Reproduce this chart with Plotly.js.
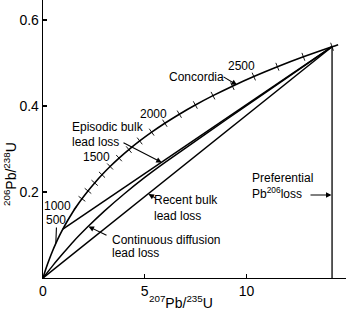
<!DOCTYPE html>
<html>
<head>
<meta charset="utf-8">
<script src="https://cdn.plot.ly/plotly-3.0.1.min.js"></script>
<style>html,body{margin:0;padding:0;background:#fff;}#chart{width:349px;height:312px;}</style>
</head>
<body>
<div id="chart"></div>
<script>
// Concordia (ages in Ma, ratios read/tabulated)
const ageMa = [0,100,200,300,400,500,600,700,800,900,1000,1100,1200,1300,1400,1500,1600,1700,1800,1900,2000,2100,2200,2300,2400,2500,2600,2700,2800,2820];
const pb207u235 = [0,0.10208,0.21458,0.33857,0.47520,0.62578,0.79174,0.97464,1.17621,1.39836,1.64317,1.91300,2.21033,2.53806,2.89928,3.29735,3.73608,4.21950,4.75229,5.33949,5.98662,6.69985,7.48588,8.35208,9.30672,10.35884,11.51836,12.79630,14.20456,14.50310];
const pb206u238 = [0,0.01549,0.03122,0.04719,0.06341,0.07988,0.09661,0.11359,0.13084,0.14835,0.16614,0.18420,0.20254,0.22117,0.24009,0.25929,0.27880,0.29861,0.31872,0.33915,0.35989,0.38095,0.40234,0.42406,0.44612,0.46852,0.49127,0.51437,0.53782,0.54255];
const tickAges = [1100,1200,1300,1400,1500,1600,1700,1800,1900,2000,2100,2200,2300,2400,2500,2600,2700,2800];

// Episodic bulk lead loss chord: lower and upper intercept ages
const episodicAges = [700, 2800];
// Recent bulk lead loss chord: from present-day origin to upper intercept
const recentAges = [0, 2800];
// Continuous diffusion lead loss curve
const diffX = [0, 0.5, 1.0, 1.5, 2.2, 3.0, 4.0, 5.0, 6.0, 8.0, 10.0, 12.0, 14.20456];
const diffY = [0, 0.030, 0.058, 0.085, 0.119, 0.155, 0.196, 0.234, 0.269, 0.335, 0.401, 0.466, 0.53782];
// Preferential Pb206 loss: vertical from upper intercept down to zero
const prefAge = 2800;
const prefY = [0.53782, 0];

// Axis ticks
const xTickVals = [0, 5, 10];
const xTickText = ['0', '5', '10'];
const yTickVals = [0.2, 0.4, 0.6];
const yTickText = ['0.2', '0.4', '0.6'];

const idx = a => ageMa.indexOf(a);
const ptX = a => pb207u235[idx(a)];
const ptY = a => pb206u238[idx(a)];

const W = 349, H = 312, ML = 43, MR = 3, MT = 0, MB = 34;
const PW = W - ML - MR, PH = H - MT - MB;
const xRange = [0, 14.89], yRange = [0, 0.6465];
const kx = PW / (xRange[1] - xRange[0]);
const ky = PH / (yRange[1] - yRange[0]);

const tickAngles = tickAges.map(a => {
  const i = idx(a);
  const j0 = i - 1, j1 = Math.min(i + 1, ageMa.length - 1);
  const dx = (pb207u235[j1] - pb207u235[j0]) * kx;
  const dy = (pb206u238[j1] - pb206u238[j0]) * ky;
  return -Math.atan2(dy, dx) * 180 / Math.PI;
});

const lineStyle = {color: '#000', width: 1.5};
const traces = [
  {x: pb207u235, y: pb206u238, mode: 'lines', line: {shape: 'spline', smoothing: 0.8, color: '#000', width: 1.6}, hoverinfo: 'skip'},
  {x: tickAges.map(ptX), y: tickAges.map(ptY), mode: 'markers', hoverinfo: 'skip',
   marker: {symbol: 'line-ns', size: 6, angle: tickAngles, line: {color: '#000', width: 0.9}}},
  {x: episodicAges.map(ptX), y: episodicAges.map(ptY), mode: 'lines', line: lineStyle, hoverinfo: 'skip'},
  {x: recentAges.map(ptX), y: recentAges.map(ptY), mode: 'lines', line: lineStyle, hoverinfo: 'skip'},
  {x: diffX, y: diffY, mode: 'lines', line: Object.assign({shape: 'spline', smoothing: 0.6}, lineStyle), hoverinfo: 'skip'},
  {x: [ptX(prefAge), ptX(prefAge)], y: prefY, mode: 'lines', line: {color: '#000', width: 1.3}, hoverinfo: 'skip'}
];

const F = 'Liberation Sans, Arial, sans-serif';
const px2x = p => (p - ML) / kx;
const py2y = p => (H - MB - p) / ky;
const px2p = p => (p - ML) / PW;
const py2p = p => (H - MB - p) / PH;
function label(text, px, py, anchor) {
  return {text: text, x: px2x(px), y: py2y(py), xref: 'x', yref: 'y', showarrow: false,
          xanchor: anchor || 'center', yanchor: 'middle', align: 'left', font: {family: F, size: 12, color: '#000'}};
}
function arrow(tx, ty, hx, hy, head) {
  return {text: '', x: px2x(hx), y: py2y(hy), ax: px2x(tx), ay: py2y(ty), xref: 'x', yref: 'y',
          axref: 'x', ayref: 'y', showarrow: true, arrowhead: head, arrowsize: 1, arrowwidth: 1.1,
          arrowcolor: '#000', standoff: 0, startstandoff: 0};
}

const annotations = [
  label('Concordia', 167, 77, 'left'),
  label('2500', 241, 65.5),
  label('2000', 153.5, 113.5),
  label('1500', 96, 157),
  label('1000', 57.5, 206),
  label('500', 56, 219.5),
  label('Episodic bulk', 70, 127, 'left'),
  label('lead loss', 70, 142, 'left'),
  label('Recent bulk<br>lead loss', 152, 208, 'left'),
  label('Continuous diffusion', 110, 240, 'left'),
  label('lead loss', 110, 253, 'left'),
  label('Preferential', 250, 178, 'left'),
  label('Pb<sup>206</sup>loss', 250, 192.5, 'left'),
  arrow(222, 76, 237, 85, 2),
  arrow(122, 142, 161.7, 162.5, 2),
  arrow(157, 199, 148.5, 194, 2),
  arrow(108, 236, 88.5, 226.5, 2),
  arrow(309, 195, 331.5, 195, 2),
  arrow(72.5, 211, 76.4, 206.6, 0),
  arrow(56.5, 226, 55.8, 243.5, 0),
  {text: '<sup>207</sup>Pb/<sup>235</sup>U', x: px2p(181), y: py2p(302), xref: 'paper', yref: 'paper', showarrow: false,
   xanchor: 'center', yanchor: 'middle', font: {family: F, size: 14, color: '#000'}},
  {text: '<sup>206</sup>Pb/<sup>238</sup>U', x: px2p(10), y: py2p(174), xref: 'paper', yref: 'paper', showarrow: false,
   textangle: -90, xanchor: 'center', yanchor: 'middle', font: {family: F, size: 14, color: '#000'}}
];

const axisCommon = {showline: true, linecolor: '#000', linewidth: 1.3, ticks: 'inside', ticklen: 4,
  tickwidth: 1.2, tickcolor: '#000', showgrid: false, zeroline: false, fixedrange: true,
  tickfont: {family: F, size: 14, color: '#000'}};

const layout = {
  width: W, height: H, margin: {l: ML, r: MR, t: MT, b: MB, pad: 0},
  paper_bgcolor: '#fff', plot_bgcolor: '#fff', showlegend: false,
  xaxis: Object.assign({range: xRange, tickmode: 'array', tickvals: xTickVals, ticktext: xTickText}, axisCommon),
  yaxis: Object.assign({range: yRange, tickmode: 'array', tickvals: yTickVals, ticktext: yTickText}, axisCommon),
  annotations: annotations
};

Plotly.newPlot('chart', traces, layout, {staticPlot: true, displayModeBar: false});
</script>
</body>
</html>
